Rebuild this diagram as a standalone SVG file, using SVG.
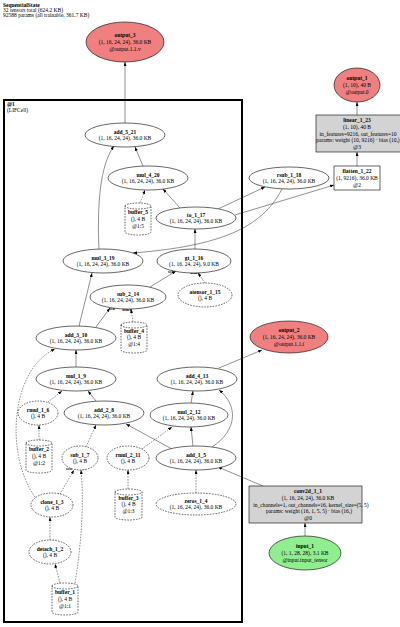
<svg xmlns="http://www.w3.org/2000/svg" width="400" height="627" viewBox="0 0 400 627">
<defs>
<marker id="ah" markerUnits="userSpaceOnUse" markerWidth="4" markerHeight="3" refX="4" refY="1.5" orient="auto"><path d="M0,0 L4,1.5 L0,3 z" fill="#000"/></marker>
<style>
text{font-family:"Liberation Serif","Times New Roman",serif;font-size:5.5px;fill:#000;text-anchor:middle}
.b{font-weight:bold}
.l{text-anchor:start}
.lab{font-size:4.2px;font-weight:bold}
.nd{fill:#fff;stroke:#000;stroke-width:0.6}
.ds{fill:#fff;stroke:#000;stroke-width:0.6;stroke-dasharray:1.6,1.2}
.out{fill:#f08080;stroke:#000;stroke-width:0.6}
.inp{fill:#90ee90;stroke:#000;stroke-width:0.6}
.mod{fill:#d3d3d3;stroke:#000;stroke-width:0.6}
.e{fill:none;stroke:#222;stroke-width:0.5;marker-end:url(#ah)}
.ed{fill:none;stroke:#222;stroke-width:0.5;stroke-dasharray:1.6,1.2;marker-end:url(#ah)}
</style>
</defs>
<rect width="400" height="627" fill="#fff"/>
<g id="title">
<text class="l b" x="3" y="6.6">SequentialState</text>
<text class="l" x="3" y="11.8">32 tensors total (624.2 KB)</text>
<text class="l" x="3" y="16.8">92588 params (all trainable, 361.7 KB)</text>
</g>
<g id="cluster_1">
<rect x="4" y="100" width="238" height="522" fill="none" stroke="#000" stroke-width="2"/>
<text class="l b" x="7" y="105.5">@1</text>
<text class="l" x="7" y="111.5">(LIFCell)</text>
</g>
<g id="edges">
<path class="e" d="M125,123 L125,62"/>
<path class="e" d="M143,166 L135,147"/>
<path class="e" d="M99,249 C97,205 100,165 114,146"/>
<path class="ed" d="M140,203 L145,190"/>
<path class="e" d="M180,208 L163,189"/>
<path class="e" d="M218,209 L265,187"/>
<path class="e" d="M235,215 L334,185"/>
<path class="e" d="M282,189 C262,228 220,246 133,253"/>
<path class="e" d="M195,249 L195,229"/>
<path class="e" d="M150,287 L176,271"/>
<path class="ed" d="M205,283 L198,273"/>
<path class="e" d="M96,327 L110,308"/>
<path class="ed" d="M133,322 L131,309"/>
<path class="e" d="M79,326 L92,273"/>
<path class="e" d="M76,367 L76,350"/>
<path class="ed" d="M35,497 C5,455 10,370 55,349"/>
<path class="ed" d="M48,402 L62,391"/>
<path class="e" d="M96,401 L88,391"/>
<path class="ed" d="M39,440 L39,425"/>
<path class="ed" d="M86,447 L96,425"/>
<path class="e" d="M172,449 L126,424"/>
<path class="ed" d="M142,449 L172,427"/>
<path class="e" d="M193,446 L191,427"/>
<path class="e" d="M212,447 C238,430 238,405 219,390"/>
<path class="e" d="M191,403 L193,391"/>
<path class="e" d="M219,368 L262,350"/>
<path class="ed" d="M196,493 L196,470"/>
<path class="e" d="M263,486 L218,467"/>
<path class="e" d="M305,536 L305,523"/>
<path class="ed" d="M128,489 L128,470"/>
<path class="ed" d="M50,540 L50,517"/>
<path class="ed" d="M60,583 L55,564"/>
<path class="ed" d="M75,583 C82,540 84,500 81,470"/>
<path class="ed" d="M60,494 L74,470"/>
<path class="e" d="M357,166 L357,152"/>
<path class="e" d="M357,115 L357,102"/>
<text class="lab" x="171" y="273">self</text>
<text class="lab" x="195" y="274">other</text>
<text class="lab" x="112" y="310">self</text>
<text class="lab" x="127" y="311">other</text>
<text class="lab" x="69" y="470">self</text>
<text class="lab" x="81" y="470">other</text>
</g>
<g id="output_3"><ellipse class="out" cx="125" cy="42" rx="39" ry="20"/><text class="b" x="125" y="37">output_3</text><text x="125" y="43.8">(1, 16, 24, 24), 36.0 KB</text><text x="125" y="50.6">@output.1.1.v</text></g>
<g id="add_5_21"><ellipse class="nd" cx="125" cy="135" rx="40" ry="12"/><text class="b" x="125" y="133.5">add_5_21</text><text x="125" y="140.3">(1, 16, 24, 24), 36.0 KB</text></g>
<g id="mul_4_20"><ellipse class="nd" cx="148" cy="178" rx="40" ry="12"/><text class="b" x="148" y="176.5">mul_4_20</text><text x="148" y="183.3">(1, 16, 24, 24), 36.0 KB</text></g>
<g id="buffer_5"><path class="ds" d="M125,206 A13,3 0 0 1 151,206 L151,232 A13,3 0 0 1 125,232 Z M125,206 A13,3 0 0 0 151,206"/><text class="b" x="138" y="214">buffer_5</text><text x="138" y="220.8">(), 4 B</text><text x="138" y="227.6">@1:5</text></g>
<g id="to_1_17"><ellipse class="nd" cx="196" cy="218" rx="40" ry="11"/><text class="b" x="196" y="216.5">to_1_17</text><text x="196" y="223.3">(1, 16, 24, 24), 36.0 KB</text></g>
<g id="rsub_1_18"><ellipse class="nd" cx="289" cy="178" rx="40" ry="11"/><text class="b" x="289" y="176.5">rsub_1_18</text><text x="289" y="183.3">(1, 16, 24, 24), 36.0 KB</text></g>
<g id="flatten_1_22"><rect class="nd" x="334" y="166" width="46" height="24"/><text class="b" x="357" y="173">flatten_1_22</text><text x="357" y="179.8">(1, 9216), 36.0 KB</text><text x="357" y="186.6">@2</text></g>
<g id="linear_1_23"><rect class="mod" x="316" y="115" width="86" height="37"/><text class="b" x="357" y="121.9">linear_1_23</text><text x="357" y="128.7">(1, 10), 40 B</text><text x="358" y="135.5">in_features=9216, out_features=10</text><text x="358" y="142.3">params: weight (10, 9216) · bias (10,)</text><text x="357" y="149.1">@3</text></g>
<g id="output_1"><ellipse class="out" cx="357" cy="85" rx="23" ry="17"/><text class="b" x="357" y="80">output_1</text><text x="357" y="86.8">(1, 10), 40 B</text><text x="357" y="93.6">@output.0</text></g>
<g id="mul_3_19"><ellipse class="nd" cx="103" cy="261" rx="40" ry="12"/><text class="b" x="103" y="259.5">mul_3_19</text><text x="103" y="266.3">(1, 16, 24, 24), 36.0 KB</text></g>
<g id="gt_1_16"><ellipse class="nd" cx="194" cy="261" rx="37" ry="12"/><text class="b" x="194" y="259.5">gt_1_16</text><text x="194" y="266.3">(1, 16, 24, 24), 9.0 KB</text></g>
<g id="sub_2_14"><ellipse class="nd" cx="128" cy="297" rx="38" ry="12"/><text class="b" x="128" y="295.5">sub_2_14</text><text x="128" y="302.3">(1, 16, 24, 24), 36.0 KB</text></g>
<g id="atensor_1_15"><ellipse class="ds" cx="205" cy="295" rx="27" ry="12"/><text class="b" x="205" y="293.5">atensor_1_15</text><text x="205" y="300.3">(), 4 B</text></g>
<g id="buffer_4"><path class="ds" d="M121,325 A13,3 0 0 1 147,325 L147,350 A13,3 0 0 1 121,350 Z M121,325 A13,3 0 0 0 147,325"/><text class="b" x="134" y="332.5">buffer_4</text><text x="134" y="339.3">(), 4 B</text><text x="134" y="346.1">@1:4</text></g>
<g id="add_3_10"><ellipse class="nd" cx="76" cy="338" rx="40" ry="12"/><text class="b" x="76" y="336.5">add_3_10</text><text x="76" y="343.3">(1, 16, 24, 24), 36.0 KB</text></g>
<g id="mul_1_9"><ellipse class="nd" cx="76" cy="379" rx="40" ry="12"/><text class="b" x="76" y="377.5">mul_1_9</text><text x="76" y="384.3">(1, 16, 24, 24), 36.0 KB</text></g>
<g id="rmul_1_6"><ellipse class="ds" cx="38" cy="413" rx="20" ry="12"/><text class="b" x="38" y="411.5">rmul_1_6</text><text x="38" y="418.3">(), 4 B</text></g>
<g id="add_2_8"><ellipse class="nd" cx="104" cy="413" rx="40" ry="12"/><text class="b" x="104" y="411.5">add_2_8</text><text x="104" y="418.3">(1, 16, 24, 24), 36.0 KB</text></g>
<g id="add_4_13"><ellipse class="nd" cx="197" cy="379" rx="40" ry="12"/><text class="b" x="197" y="377.5">add_4_13</text><text x="197" y="384.3">(1, 16, 24, 24), 36.0 KB</text></g>
<g id="mul_2_12"><ellipse class="nd" cx="189" cy="415" rx="39" ry="12"/><text class="b" x="189" y="413.5">mul_2_12</text><text x="189" y="420.3">(1, 16, 24, 24), 36.0 KB</text></g>
<g id="output_2"><ellipse class="out" cx="289" cy="337" rx="39" ry="16"/><text class="b" x="289" y="332">output_2</text><text x="289" y="338.8">(1, 16, 24, 24), 36.0 KB</text><text x="289" y="345.6">@output.1.1.i</text></g>
<g id="sub_1_7"><ellipse class="ds" cx="80" cy="458" rx="18" ry="12"/><text class="b" x="80" y="456.5">sub_1_7</text><text x="80" y="463.3">(), 4 B</text></g>
<g id="rmul_2_11"><ellipse class="ds" cx="128" cy="458" rx="21" ry="12"/><text class="b" x="128" y="456.5">rmul_2_11</text><text x="128" y="463.3">(), 4 B</text></g>
<g id="add_1_5"><ellipse class="nd" cx="196" cy="458" rx="40" ry="12"/><text class="b" x="196" y="456.5">add_1_5</text><text x="196" y="463.3">(1, 16, 24, 24), 36.0 KB</text></g>
<g id="buffer_2"><path class="ds" d="M26,443 A13,3 0 0 1 52,443 L52,470 A13,3 0 0 1 26,470 Z M26,443 A13,3 0 0 0 52,443"/><text class="b" x="39" y="451">buffer_2</text><text x="39" y="457.8">(), 4 B</text><text x="39" y="464.6">@1:2</text></g>
<g id="clone_1_3"><ellipse class="ds" cx="52" cy="505" rx="21" ry="12"/><text class="b" x="52" y="503.5">clone_1_3</text><text x="52" y="510.3">(), 4 B</text></g>
<g id="buffer_3"><path class="ds" d="M115,492 A13.5,3 0 0 1 142,492 L142,517 A13.5,3 0 0 1 115,517 Z M115,492 A13.5,3 0 0 0 142,492"/><text class="b" x="128.5" y="499.5">buffer_3</text><text x="128.5" y="506.3">(), 4 B</text><text x="128.5" y="513.1">@1:3</text></g>
<g id="zeros_1_4"><ellipse class="ds" cx="196" cy="504" rx="40" ry="11"/><text class="b" x="196" y="502.5">zeros_1_4</text><text x="196" y="509.3">(1, 16, 24, 24), 36.0 KB</text></g>
<g id="conv2d_1_1"><rect class="mod" x="249" y="486" width="113" height="37"/><text class="b" x="308" y="492.9">conv2d_1_1</text><text x="308" y="499.7">(1, 16, 24, 24), 36.0 KB</text><text x="311" y="506.5">in_channels=1, out_channels=16, kernel_size=(5, 5)</text><text x="309" y="513.3">params: weight (16, 1, 5, 5) · bias (16,)</text><text x="308" y="520.1">@0</text></g>
<g id="input_1"><ellipse class="inp" cx="305" cy="553" rx="36" ry="17"/><text class="b" x="305" y="548">input_1</text><text x="305" y="554.8">(1, 1, 28, 28), 3.1 KB</text><text x="305" y="561.6">@input.input_tensor</text></g>
<g id="detach_1_2"><ellipse class="ds" cx="50" cy="552" rx="21" ry="12"/><text class="b" x="50" y="550.5">detach_1_2</text><text x="50" y="557.3">(), 4 B</text></g>
<g id="buffer_1"><path class="ds" d="M52,586 A13,3 0 0 1 78,586 L78,612 A13,3 0 0 1 52,612 Z M52,586 A13,3 0 0 0 78,586"/><text class="b" x="65" y="594">buffer_1</text><text x="65" y="600.8">(), 4 B</text><text x="65" y="607.6">@1:1</text></g>
</svg>
